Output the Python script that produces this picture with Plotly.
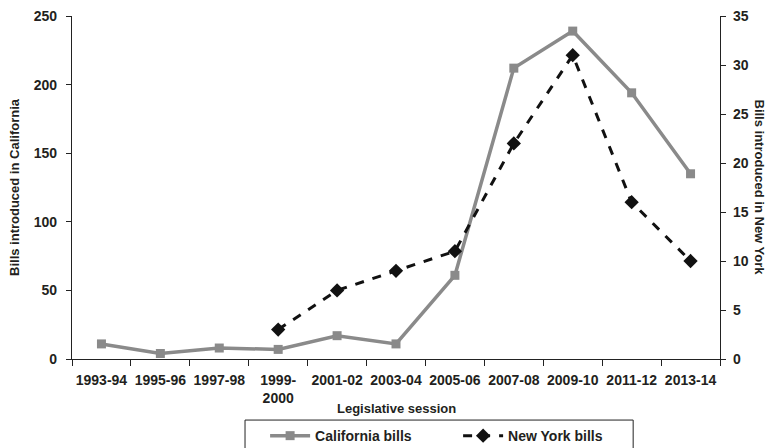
import plotly.graph_objects as go

sessions = ["1993-94", "1995-96", "1997-98", "1999-<br>2000", "2001-02", "2003-04",
            "2005-06", "2007-08", "2009-10", "2011-12", "2013-14"]
california_bills = [11, 4, 8, 7, 17, 11, 61, 212, 239, 194, 135]
new_york_bills = [None, None, None, 3, 7, 9, 11, 22, 31, 16, 10]

left_ticks = [0, 50, 100, 150, 200, 250]
right_ticks = [0, 5, 10, 15, 20, 25, 30, 35]

FONT = "Liberation Sans, Arial, sans-serif"
TXT = "#231f20"

fig = go.Figure()
fig.add_trace(go.Scatter(
    x=sessions, y=california_bills, name="California bills", mode="lines+markers",
    line=dict(color="#8a8a8a", width=3.5),
    marker=dict(symbol="square", size=9, color="#8a8a8a"),
    yaxis="y",
))
fig.add_trace(go.Scatter(
    x=sessions, y=new_york_bills, name="New York bills", mode="lines+markers",
    line=dict(color="#111111", width=3, dash="dash"),
    marker=dict(symbol="diamond", size=11, color="#111111"),
    yaxis="y2", connectgaps=False,
))

tickfont = dict(family=FONT, size=14, color=TXT, weight="bold")
titlefont = dict(family=FONT, size=13, color=TXT, weight="bold")

fig.update_layout(
    width=767, height=448,
    margin=dict(l=72, r=47, t=16, b=89, autoexpand=False),
    paper_bgcolor="white", plot_bgcolor="white",
    font=dict(family=FONT, color=TXT),
    xaxis=dict(
        type="category", range=[-0.5, 10.5], showgrid=False, zeroline=False,
        showline=True, linecolor="#222", linewidth=1.2,
        ticks="outside", tickson="boundaries", ticklen=6, tickcolor="#222",
        tickfont=tickfont, tickangle=0, ticklabeloverflow="allow",
        ticklabelstandoff=8,
    ),
    yaxis=dict(
        range=[0, 250], tickvals=left_ticks, showgrid=False, zeroline=False,
        showline=True, linecolor="#222", linewidth=1.2,
        ticks="outside", ticklen=5, tickcolor="#222", ticklabelstandoff=6,
        tickfont=tickfont, ticklabeloverflow="allow",
        title=dict(text="Bills introduced in California", standoff=11, font=titlefont),
    ),
    yaxis2=dict(
        range=[0, 35], tickvals=right_ticks, overlaying="y", side="right",
        showgrid=False, zeroline=False,
        showline=True, linecolor="#222", linewidth=1.2,
        ticks="outside", ticklen=5, tickcolor="#222", ticklabelstandoff=4,
        tickfont=tickfont, ticklabeloverflow="allow",
    ),
    legend=dict(
        orientation="h", x=0.298, xanchor="left", y=-0.178, yanchor="top",
        borderwidth=0, bgcolor="rgba(0,0,0,0)",
        font=dict(family=FONT, size=14, color=TXT, weight="bold"),
        itemwidth=40, entrywidth=138, entrywidthmode="pixels", tracegroupgap=0,
    ),
    showlegend=True,
)

# legend frame
fig.add_shape(
    type="rect", xref="paper", yref="paper",
    x0=0.267, x1=0.866, y0=-0.178, y1=-0.30,
    line=dict(color="#222", width=1), fillcolor="rgba(0,0,0,0)", layer="below",
)

fig.add_annotation(
    text="Bills introduced in New York", textangle=90,
    xref="paper", yref="paper", x=1.0, y=0.5, xanchor="center", yanchor="middle",
    xshift=39, showarrow=False, font=titlefont,
)
fig.add_annotation(
    text="Legislative session",
    xref="paper", yref="paper", x=0.5, y=0, xanchor="center", yanchor="middle",
    yshift=-49, showarrow=False, font=titlefont,
)

fig.write_html(
    "out.html",
    config={"displayModeBar": False},
    post_script="document.body.style.margin='0';document.body.style.overflow='hidden';",
)
